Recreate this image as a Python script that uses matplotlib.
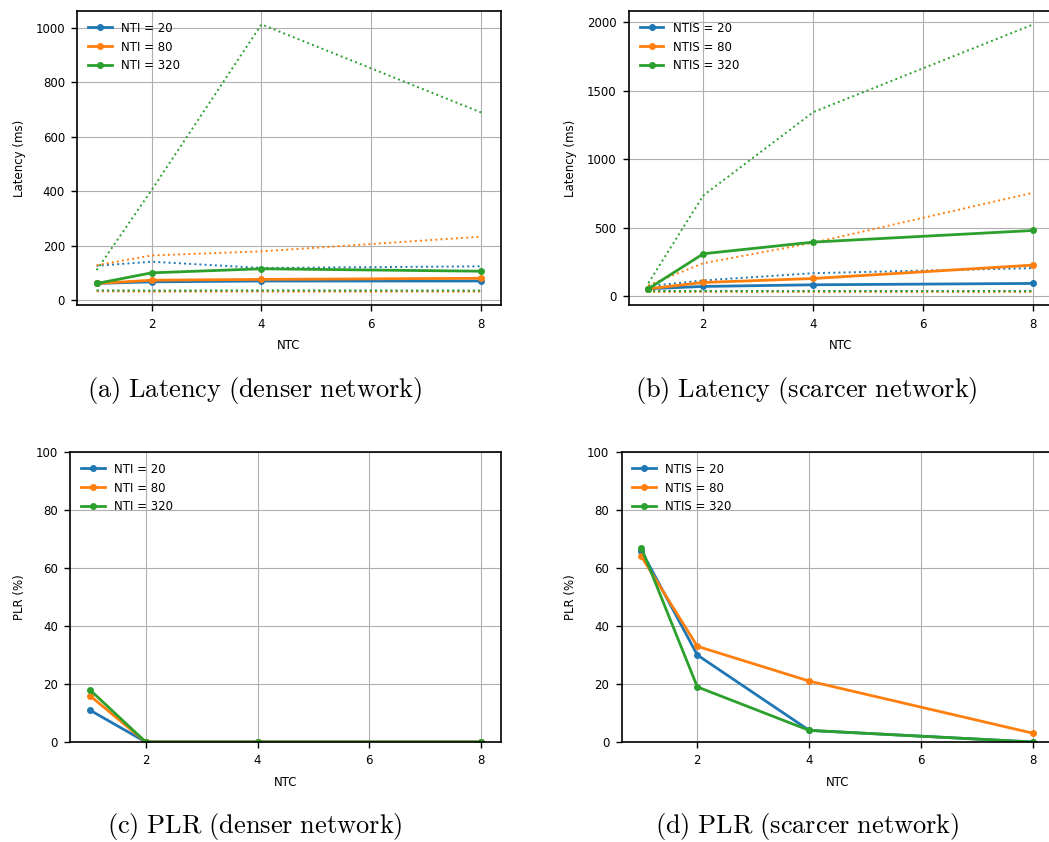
import matplotlib
matplotlib.use("Agg")
import matplotlib.pyplot as plt
from matplotlib.ticker import MultipleLocator

plt.rcParams['mathtext.fontset'] = 'cm'
plt.rcParams['font.family'] = ['DejaVu Sans']

ntc = [1, 2, 4, 8]
series_labels_a = ["NTI = 20", "NTI = 80", "NTI = 320"]
series_labels_b = ["NTIS = 20", "NTIS = 80", "NTIS = 320"]
colors = ["#1f77b4", "#ff7f0e", "#2ca02c"]

# (a) latency, denser network (ms)
lat_a_mean = [[61, 67, 70, 70], [61, 73, 76, 80], [61, 100, 115, 106]]
lat_a_max = [[126, 141, 118, 124], [128, 164, 179, 233], [110, 404, 1013, 689]]
lat_a_min = [[33, 33, 33, 33], [32, 31, 31, 31], [36, 35, 36, 35]]

# (b) latency, scarcer network (ms)
lat_b_mean = [[54, 71, 83, 93], [54, 100, 129, 227], [54, 310, 395, 480]]
lat_b_max = [[73, 115, 168, 205], [80, 241, 390, 756], [95, 736, 1345, 1986]]
lat_b_min = [[34, 34, 34, 34], [33, 33, 33, 33], [35, 35, 35, 35]]

# (c) PLR denser network (%)
plr_c = [[11, 0, 0, 0], [16, 0, 0, 0], [18, 0, 0, 0]]
# (d) PLR scarcer network (%)
plr_d = [[66, 30, 4, 0], [64, 33, 21, 3], [67, 19, 4, 0]]

captions = [r"$\mathrm{(a)\ Latency\ (denser\ network)}$",
            r"$\mathrm{(b)\ Latency\ (scarcer\ network)}$",
            r"$\mathrm{(c)\ PLR\ (denser\ network)}$",
            r"$\mathrm{(d)\ PLR\ (scarcer\ network)}$"]

W, H = 1049, 842
fig = plt.figure(figsize=(W / 100, H / 100), dpi=100)


def px_axes(l, t, r, b):
    return fig.add_axes([l / W, 1 - b / H, (r - l) / W, (b - t) / H])


FS = 8.5


def style(ax, ylabel):
    ax.grid(True, color="#b0b0b0", linewidth=0.8)
    ax.set_xlabel("NTC", fontsize=FS, labelpad=6)
    ax.set_ylabel(ylabel, fontsize=FS, labelpad=7)
    ax.tick_params(labelsize=FS, width=1.0, length=4.5, pad=4.5)
    for s in ax.spines.values():
        s.set_linewidth(1.2)
    ax.set_xticks([2, 4, 6, 8])


def latency(ax, mean, mx, mn, labels):
    for i in range(3):
        ax.plot(ntc, mean[i], color=colors[i], marker="o", markersize=4,
                linewidth=2, label=labels[i])
        ax.plot(ntc, mx[i], color=colors[i], linestyle=":", linewidth=1.4)
        ax.plot(ntc, mn[i], color=colors[i], linestyle=":", linewidth=1.4)
    style(ax, "Latency (ms)")
    ax.legend(loc="upper left", fontsize=FS, frameon=False)


def plr(ax, vals, labels):
    for i in range(3):
        ax.plot(ntc, vals[i], color=colors[i], marker="o", markersize=4,
                linewidth=2, label=labels[i])
    ax.set_ylim(0, 100)
    style(ax, "PLR (%)")
    ax.legend(loc="upper left", fontsize=FS, frameon=False)


ax_a = px_axes(77.4, 11, 500.5, 305)
latency(ax_a, lat_a_mean, lat_a_max, lat_a_min, series_labels_a)
ax_b = px_axes(629.1, 11, 1052.6, 305)
latency(ax_b, lat_b_mean, lat_b_max, lat_b_min, series_labels_b)
ax_b.yaxis.set_major_locator(MultipleLocator(500))
ax_c = px_axes(70.3, 452, 500.6, 742)
plr(ax_c, plr_c, series_labels_a)
ax_d = px_axes(621.7, 452, 1052.9, 742)
plr(ax_d, plr_d, series_labels_b)

cap_pos = [(255, 390), (806, 390), (255, 827), (807, 827)]
for (cx, cy), cap in zip(cap_pos, captions):
    fig.text(cx / W, 1 - cy / H, cap, ha="center", va="center", fontsize=19)

fig.savefig("out.png", dpi=100)
